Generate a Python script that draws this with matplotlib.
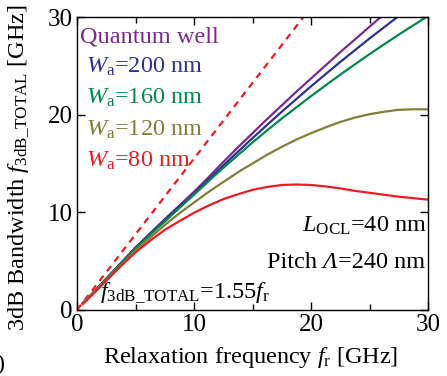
import matplotlib
matplotlib.use("Agg")
import matplotlib.pyplot as plt

plt.rcParams['font.family'] = ['Liberation Serif', 'DejaVu Serif']
plt.rcParams['mathtext.fontset'] = 'custom'
plt.rcParams['mathtext.rm'] = 'Liberation Serif'
plt.rcParams['mathtext.it'] = 'Liberation Serif:italic'

# relaxation frequency (GHz)
fr = [0.5, 1.25, 2.5, 3.75, 5, 6.25, 7.5, 8.75, 10, 11.25, 12.5, 13.75, 15,
      16.25, 17.5, 18.75, 20, 21.25, 22.5, 23.75, 25, 26.25, 27.5, 28.75, 30]

# 3dB bandwidth (GHz) for each structure
qw = [0.7, 1.6, 3.2, 4.8, 6.4, 7.85, 9.3, 10.7, 12.1, 13.6, 15.15, 16.65, 18.1,
      19.55, 20.95, 22.35, 23.7, 25.05, 26.4, 27.7, 29.0, 30.3, 31.6, 32.85, 34.1]
wa200 = [0.7, 1.6, 3.2, 4.8, 6.35, 7.8, 9.2, 10.55, 11.9, 13.35, 14.8, 16.2, 17.6,
         18.95, 20.3, 21.6, 22.9, 24.15, 25.4, 26.6, 27.8, 28.95, 30.1, 31.2, 32.3]
wa160 = [0.7, 1.6, 3.2, 4.75, 6.3, 7.7, 9.05, 10.45, 11.8, 13.2, 14.55, 15.85, 17.15,
         18.4, 19.6, 20.75, 21.9, 23.0, 24.1, 25.15, 26.2, 27.2, 28.2, 29.15, 30.1]
wa120 = [0.7, 1.6, 3.1, 4.6, 6.1, 7.4, 8.7, 9.9, 11.0, 12.1, 13.1, 14.1, 15.0,
         15.9, 16.7, 17.45, 18.1, 18.7, 19.25, 19.7, 20.05, 20.3, 20.5, 20.55, 20.55]
wa80 = [0.6, 1.5, 3.0, 4.5, 5.9, 7.1, 8.2, 9.1, 9.95, 10.7, 11.35, 11.85, 12.3,
        12.6, 12.8, 12.85, 12.8, 12.65, 12.45, 12.2, 12.0, 11.8, 11.6, 11.45, 11.3]

fit_fr = [0, 30]
fit_k = 1.55

labels = ['Quantum well', r'$W_{\mathrm{a}}$=200 nm', r'$W_{\mathrm{a}}$=160 nm',
          r'$W_{\mathrm{a}}$=120 nm', r'$W_{\mathrm{a}}$=80 nm']
colors = ['#7b2a8c', '#2e3192', '#00894a', '#7f7f3a', '#ed1c24']

W, H = 447, 376
fig = plt.figure(figsize=(W/100, H/100), dpi=100)
ax = fig.add_axes([77/W, 66/H, 351/W, 293/H])

ax.plot(fit_fr, [fit_k * f for f in fit_fr], color='#ed1c24', lw=1.6,
        dashes=(3, 2.5))
for ys, c in zip([qw, wa200, wa160, wa120, wa80], colors):
    ax.plot(fr, ys, color=c, lw=1.6)

ax.set_xlim(0, 30)
ax.set_ylim(0, 30)
ax.set_xticks([0, 10, 20, 30])
ax.set_xticks([5, 15, 25], minor=True)
ax.set_yticks([0, 10, 20, 30])
ax.tick_params(direction='in', top=True, right=True, labelsize=18,
               length=6, width=1, pad=3)
ax.tick_params(which='minor', direction='in', top=True, length=4, width=1)
for s in ax.spines.values():
    s.set_linewidth(1)

# legend as coloured text
ys_txt = [42, 73, 104, 136, 167]
for lab, c, y in zip(labels, colors, ys_txt):
    x = 80 if lab == 'Quantum well' else 86
    fig.text(x/W, 1 - y/H, lab, color=c, fontsize=17.5, va='baseline')

fig.text(427/W, 1 - 232/H, r'$L_{\mathrm{OCL}}$=40 nm', fontsize=17.5,
         ha='right', va='baseline')

# "Pitch Λ=240 nm" with italic Λ, built right to left
renderer = fig.canvas.get_renderer()
yb = 1 - 268/H
xr = 425 / W
for piece, style in [('=240 nm', 'normal'), ('Λ', 'italic'), ('Pitch ', 'normal')]:
    t = fig.text(xr, yb, piece, fontsize=17.5, style=style,
                 ha='right', va='baseline')
    bb = t.get_window_extent(renderer)
    xr = bb.x0 / W

fig.text(100/W, 1 - 298/H, r'$f_{\mathrm{3dB\_TOTAL}}$=1.55$f_{\mathrm{r}}$',
         fontsize=17.5, va='baseline')

fig.text(251/W, 1 - 363/H, r'Relaxation frequency $f_{\mathrm{r}}$ [GHz]',
         fontsize=17.5, ha='center', va='baseline')
fig.text(19/W, 1 - 168/H, r'3dB Bandwidth $f_{\mathrm{3dB\_TOTAL}}$ [GHz]',
         fontsize=17.5, rotation=90, ha='center', va='center')
fig.text(-4/W, 1 - 370/H, ')', fontsize=17.5, va='baseline')

fig.savefig('out.png', dpi=100)
